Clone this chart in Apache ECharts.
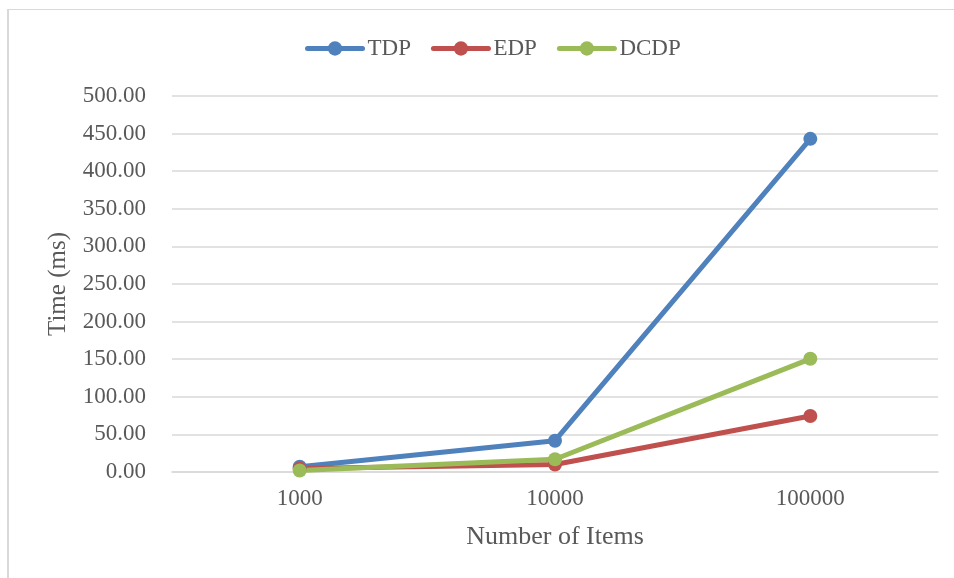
<!DOCTYPE html>
<html>
<head>
<meta charset="utf-8">
<script src="https://cdn.jsdelivr.net/npm/echarts@6/dist/echarts.min.js"></script>
<style>
  html, body { margin: 0; padding: 0; background: #ffffff; }
  #chart { width: 954px; height: 578px; }
</style>
</head>
<body>
<div id="chart"></div>
<script>
// Number of items processed
const categories = ['1000', '10000', '100000'];

// Running time (ms) for each algorithm
const tdp = [7, 41.6, 443];
const edp = [4.5, 10, 74.5];
const dcdp = [2, 17, 150.5];

const seriesNames = ['TDP', 'EDP', 'DCDP'];
const seriesColors = ['#4f81bd', '#c0504d', '#9bbb59'];
const seriesData = [tdp, edp, dcdp];

const yMin = 0;
const yMax = 500;
const yStep = 50;

const textColor = '#595959';
const gridColor = '#d9d9d9';
const fontFamily = '"Liberation Serif", "Times New Roman", serif';

const chart = echarts.init(document.getElementById('chart'));

chart.setOption({
  backgroundColor: '#ffffff',
  animation: false,
  textStyle: { fontFamily: fontFamily, color: textColor },
  graphic: [
    { type: 'line', shape: { x1: 8, y1: 9.5, x2: 954, y2: 9.5 },
      style: { stroke: gridColor, lineWidth: 1 } },
    { type: 'line', shape: { x1: 8, y1: 9, x2: 8, y2: 578 },
      style: { stroke: gridColor, lineWidth: 2 } }
  ],
  legend: {
    top: 32,
    left: 300,
    itemWidth: 55,
    itemHeight: 18,
    itemGap: 20,
    lineStyle: { width: 5, cap: 'round' },
    textStyle: { fontFamily: fontFamily, fontSize: 23, color: textColor },
    data: seriesNames
  },
  grid: {
    left: 172,
    right: 16,
    top: 96,
    bottom: 106,
    containLabel: false
  },
  xAxis: {
    type: 'category',
    data: categories,
    boundaryGap: true,
    name: 'Number of Items',
    nameLocation: 'middle',
    nameGap: 52,
    nameTextStyle: { fontFamily: fontFamily, fontSize: 26, color: textColor },
    axisLine: { show: true, lineStyle: { color: gridColor, width: 1.5 } },
    axisTick: { show: false },
    axisLabel: { fontFamily: fontFamily, fontSize: 23, color: textColor, margin: 15 }
  },
  yAxis: {
    type: 'value',
    min: yMin,
    max: yMax,
    interval: yStep,
    name: 'Time (ms)',
    nameLocation: 'middle',
    nameGap: 101,
    nameTextStyle: { fontFamily: fontFamily, fontSize: 25, color: textColor },
    axisLine: { show: false },
    axisTick: { show: false },
    splitLine: { show: true, lineStyle: { color: gridColor, width: 1.5 } },
    axisLabel: {
      fontFamily: fontFamily, fontSize: 23, color: textColor, margin: 26,
      formatter: function (v) { return v.toFixed(2); }
    }
  },
  series: seriesNames.map(function (name, i) {
    return {
      name: name,
      type: 'line',
      data: seriesData[i],
      symbol: 'circle',
      symbolSize: 14,
      lineStyle: { width: 5, color: seriesColors[i], cap: 'round' },
      itemStyle: { color: seriesColors[i] }
    };
  })
});
</script>
</body>
</html>
